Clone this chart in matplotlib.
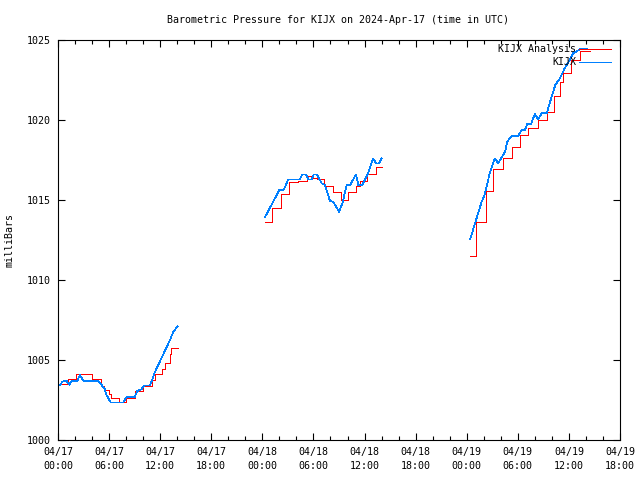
import matplotlib
matplotlib.use("Agg")
import matplotlib.pyplot as plt
from matplotlib.ticker import MultipleLocator
import numpy as np

# Hours since 2024-04-17 00:00 UTC
# Analysis (red, step series): step start times and values
ana_t1 = [0.2, 1.2, 2.1, 4.0, 5.1, 5.4, 6.0, 6.2, 7.2, 8.0, 9.0, 10.0, 11.0, 11.4, 12.2, 12.6, 13.1, 13.3, 14.1]
ana_v1 = [1003.5, 1003.8, 1004.1, 1003.8, 1003.4, 1003.1, 1002.85, 1002.6, 1002.35, 1002.6, 1003.05, 1003.4, 1003.75, 1004.1, 1004.45, 1004.8, 1005.4, 1005.75, 1005.75]

ana_t2 = [24.3, 25.1, 26.2, 27.1, 28.2, 29.2, 29.8, 30.4, 31.2, 32.3, 33.2, 34.1, 35.0, 35.5, 36.3, 37.35, 38.0]
ana_v2 = [1013.6, 1014.5, 1015.4, 1016.15, 1016.2, 1016.5, 1016.4, 1016.3, 1015.9, 1015.5, 1015.0, 1015.5, 1015.9, 1016.2, 1016.65, 1017.05, 1017.05]

ana_t3 = [48.4, 49.1, 50.3, 51.1, 52.3, 53.3, 54.3, 55.2, 56.4, 57.4, 58.2, 59.0, 59.35, 60.2, 61.3, 62.5]
ana_v3 = [1011.5, 1013.65, 1015.55, 1016.95, 1017.65, 1018.3, 1019.05, 1019.5, 1020.0, 1020.5, 1021.5, 1022.4, 1022.95, 1023.75, 1024.3, 1024.3]

# Observations (blue line)
obs_t1 = [0.23, 0.55, 1.0, 1.33, 1.6, 2.27, 2.58, 2.97, 4.7, 5.1, 5.5, 5.7, 6.2, 7.67, 8.0, 9.0, 9.3, 9.8, 10.1, 10.8, 11.4, 13.15, 13.55, 14.05]
obs_v1 = [1003.45, 1003.65, 1003.7, 1003.45, 1003.7, 1003.7, 1004.06, 1003.7, 1003.7, 1003.45, 1003.17, 1002.8, 1002.35, 1002.35, 1002.67, 1002.67, 1003.06, 1003.17, 1003.4, 1003.4, 1004.27, 1006.25, 1006.77, 1007.1]

obs_t2 = [24.3, 26.0, 26.5, 27.05, 28.4, 28.7, 29.1, 29.4, 29.8, 30.05, 30.4, 30.97, 31.35, 31.94, 32.3, 33.0, 33.4, 33.9, 34.3, 35.0, 35.27, 35.74, 36.45, 37.0, 37.35, 37.7, 38.0]
obs_v2 = [1013.92, 1015.63, 1015.63, 1016.29, 1016.29, 1016.6, 1016.6, 1016.29, 1016.29, 1016.6, 1016.6, 1016.04, 1015.94, 1014.94, 1014.9, 1014.27, 1014.79, 1015.94, 1015.94, 1016.6, 1015.94, 1015.94, 1016.71, 1017.6, 1017.29, 1017.29, 1017.6]

obs_t3 = [48.4, 48.97, 49.76, 50.1, 50.7, 51.3, 51.7, 52.1, 52.5, 52.77, 53.3, 54.06, 54.45, 54.84, 55.1, 55.55, 56.0, 56.4, 56.8, 57.4, 57.8, 58.4, 58.95, 59.5, 60.1, 60.5, 61.3, 62.1]
obs_v3 = [1012.54, 1013.54, 1014.9, 1015.31, 1016.67, 1017.6, 1017.29, 1017.67, 1018.02, 1018.65, 1019.02, 1019.02, 1019.38, 1019.38, 1019.75, 1019.75, 1020.38, 1020.04, 1020.42, 1020.42, 1021.15, 1022.19, 1022.6, 1023.23, 1023.75, 1024.17, 1024.42, 1024.42]

xtick_pos = [0, 6, 12, 18, 24, 30, 36, 42, 48, 54, 60, 66]
xtick_labels = ["04/17\n00:00", "04/17\n06:00", "04/17\n12:00", "04/17\n18:00",
                "04/18\n00:00", "04/18\n06:00", "04/18\n12:00", "04/18\n18:00",
                "04/19\n00:00", "04/19\n06:00", "04/19\n12:00", "04/19\n18:00"]
ytick_pos = [1000, 1005, 1010, 1015, 1020, 1025]

RED = "#ff0000"
BLUE = "#0080ff"
FONT = "DejaVu Sans Mono"
FS = 7.2

plt.rcParams['font.family'] = [FONT]
fig = plt.figure(figsize=(6.4, 4.8), dpi=100)
ax = fig.add_axes([58/640, 40/480, 562/640, 400/480])

lw = 0.5
first = True
for t, v in [(ana_t1, ana_v1), (ana_t2, ana_v2), (ana_t3, ana_v3)]:
    ax.plot(t, v, color=RED, lw=lw, drawstyle='steps-post', antialiased=False,
            label="KIJX Analysis" if first else None)
    first = False
first = True
for t, v in [(obs_t1, obs_v1), (obs_t2, obs_v2), (obs_t3, obs_v3)]:
    ax.plot(t, v, color=BLUE, lw=lw, antialiased=False,
            label="KIJX" if first else None)
    first = False

ax.set_xlim(0, 66)
ax.set_ylim(1000, 1025)
ax.set_xticks(xtick_pos)
ax.set_xticklabels(xtick_labels, fontsize=FS, linespacing=1.45)
ax.xaxis.set_minor_locator(MultipleLocator(2))
ax.set_yticks(ytick_pos)
ax.set_yticklabels([str(v) for v in ytick_pos], fontsize=FS)
ax.tick_params(axis='both', which='both', direction='in', top=True, right=True, width=0.8)
ax.tick_params(axis='both', which='major', length=5)
ax.tick_params(axis='x', which='major', pad=5)
ax.tick_params(axis='y', which='major', pad=5)
ax.tick_params(axis='x', which='minor', length=3)
for s in ax.spines.values():
    s.set_linewidth(0.8)

fig.text(10/640, 0.5, "milliBars", rotation=90, fontsize=FS, ha='center', va='center')
fig.text(338/640, 1 - 20/480, "Barometric Pressure for KIJX on 2024-Apr-17 (time in UTC)",
         fontsize=FS, ha='center', va='center')

leg = ax.legend(loc='upper right', bbox_to_anchor=(611/640, 1 - 44/480),
                bbox_transform=fig.transFigure, frameon=False, markerfirst=False,
                fontsize=FS, handlelength=3.2, borderaxespad=0, borderpad=0,
                labelspacing=0.3, handletextpad=0.3)
for line in leg.get_lines():
    line.set_linewidth(0.72)

fig.savefig("out.png", dpi=100)
